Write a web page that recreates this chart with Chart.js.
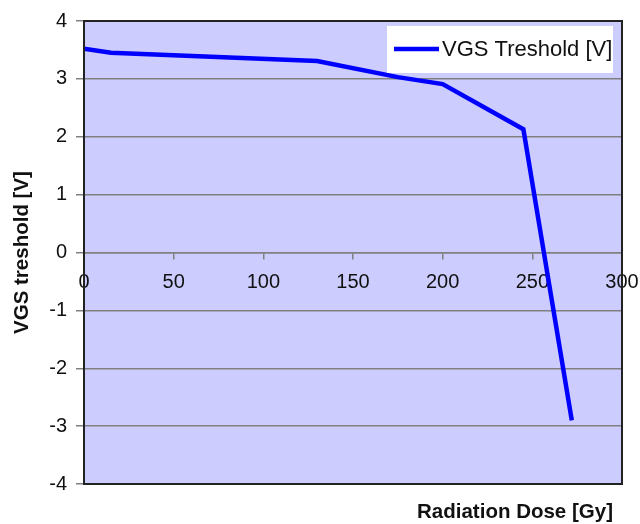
<!DOCTYPE html>
<html>
<head>
<meta charset="utf-8">
<script src="https://cdn.jsdelivr.net/npm/chart.js@4"></script>
<style>
  html, body { margin: 0; padding: 0; background: #fff; }
  #wrap { width: 640px; height: 524px; }
</style>
</head>
<body>
<div id="wrap"><canvas id="chart" width="640" height="524"></canvas></div>
<script>
const doses = [0, 15, 130, 175, 200, 245, 272]
const thresholds = [3.52, 3.45, 3.31, 3.03, 2.91, 2.13, -2.9]
const seriesLabel = 'VGS Treshold [V]'
const xTitle = 'Radiation Dose [Gy]'
const yTitle = 'VGS treshold [V]'

const FONT = "'Liberation Sans', Arial, sans-serif"

// lavender plot background and dark frame
const plotFrame = {
  id: 'plotFrame',
  beforeDraw (chart) {
    const { ctx, chartArea: a } = chart
    ctx.save()
    ctx.fillStyle = '#ccccff'
    ctx.fillRect(a.left, a.top, a.right - a.left, a.bottom - a.top)
    ctx.restore()
  },
  afterDatasetsDraw (chart) {
    const { ctx, chartArea: a } = chart
    ctx.save()
    ctx.strokeStyle = '#222'
    ctx.lineWidth = 2
    ctx.strokeRect(a.left, a.top, a.right - a.left, a.bottom - a.top)
    ctx.restore()
  }
}

// legend box inside the plot, and the x title under it
const extras = {
  id: 'extras',
  afterDraw (chart) {
    const { ctx, chartArea: a } = chart
    ctx.save()
    const boxRight = a.right - 9
    const boxLeft = boxRight - 226
    const boxTop = a.top + 5
    ctx.fillStyle = '#fff'
    ctx.fillRect(boxLeft, boxTop, boxRight - boxLeft, 47)
    const ly = boxTop + 23
    ctx.strokeStyle = '#0000ff'
    ctx.lineWidth = 4.5
    ctx.beginPath()
    ctx.moveTo(boxLeft + 7, ly)
    ctx.lineTo(boxLeft + 52, ly)
    ctx.stroke()
    ctx.fillStyle = '#111'
    ctx.font = '22px ' + FONT
    ctx.textBaseline = 'middle'
    ctx.textAlign = 'left'
    ctx.fillText(chart.data.datasets[0].label, boxLeft + 55, ly + 1)

    ctx.font = 'bold 20.5px ' + FONT
    ctx.textAlign = 'center'
    ctx.textBaseline = 'alphabetic'
    ctx.fillText(xTitle, 515, 518)
    ctx.restore()
  }
}

new Chart(document.getElementById('chart'), {
  type: 'line',
  data: {
    datasets: [
      {
        label: seriesLabel,
        data: doses.map((d, i) => ({ x: d, y: thresholds[i] })),
        borderColor: '#0000ff',
        borderWidth: 4.5,
        pointRadius: 0,
        tension: 0,
        fill: false
      }
    ]
  },
  plugins: [plotFrame, extras],
  options: {
    responsive: false,
    animation: false,
    layout: {
      padding: { top: 20, right: 18, bottom: 40, left: 0 }
    },
    scales: {
      x: {
        type: 'linear',
        min: 0,
        max: 300,
        position: { y: 0 },
        afterFit (scale) {
          scale.paddingLeft = 0
          scale.paddingRight = 0
        },
        ticks: {
          stepSize: 50,
          maxRotation: 0,
          padding: 12,
          color: '#111',
          font: { family: FONT, size: 20 }
        },
        grid: {
          drawOnChartArea: false,
          drawTicks: true,
          tickLength: 6,
          color: '#808080',
          lineWidth: 1.5
        },
        border: { display: true, color: '#808080', width: 1.5 }
      },
      y: {
        min: -4,
        max: 4,
        afterFit (scale) { scale.width = 84 },
        ticks: {
          stepSize: 1,
          padding: 9,
          color: '#111',
          font: { family: FONT, size: 20 }
        },
        grid: {
          color: '#808080',
          lineWidth: 1.5,
          tickLength: 8
        },
        border: { display: false },
        title: {
          display: true,
          text: yTitle,
          color: '#111',
          padding: { top: 10, bottom: 0 },
          font: { family: FONT, size: 20.5, weight: 'bold' }
        }
      }
    },
    plugins: {
      legend: { display: false },
      tooltip: { enabled: false }
    }
  }
})
</script>
</body>
</html>
